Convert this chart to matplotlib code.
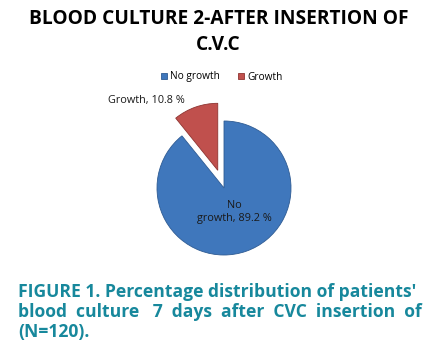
import numpy as np
import matplotlib
matplotlib.use("Agg")
import matplotlib.pyplot as plt

# data
categories = ["No growth", "Growth"]
percent = [89.2, 10.8]
colors = ["#3F77BC", "#C0504D"]
edge_colors = ["#2E5B93", "#8E3431"]

title = "BLOOD CULTURE 2-AFTER INSERTION OF\nC.V.C"
caption_lines = [
    "FIGURE 1. Percentage distribution of patients'",
    "blood  culture   7  days  after  CVC  insertion  of",
    "(N=120).",
]

plt.rcParams['font.family'] = ['Open Sans', 'DejaVu Sans']

W, H = 437, 352
fig = plt.figure(figsize=(W / 100, H / 100), dpi=100)

# pie axes: centre and radius in pixels
cx, cy, r = 224, 188, 67
half = 1.25 * r
ax = fig.add_axes([(cx - half) / W, (H - cy - half) / H, 2 * half / W, 2 * half / H])

wedges, _ = ax.pie(percent, colors=colors, startangle=90, counterclock=False,
                   explode=[0, 0.28], radius=1,
                   wedgeprops=dict(linewidth=0.6))
for w, ec in zip(wedges, edge_colors):
    w.set_edgecolor(ec)
ax.set_xlim(-1.25, 1.25)
ax.set_ylim(-1.25, 1.25)
ax.set_aspect('equal')

# slice labels
ax.text(-1.16, 1.31, f"{categories[1]}, {percent[1]} %", ha='center', va='center',
        fontsize=7.8, color='#1a1a1a')
ax.text(0.16, -0.36, f"No\ngrowth, {percent[0]} %", ha='center', va='center',
        fontsize=7.8, color='#1a1a1a', linespacing=1.25)

fig.legend(wedges, categories, loc='center', bbox_to_anchor=(222 / W, 1 - 77 / H),
           ncol=2, frameon=False, fontsize=7.3, handlelength=0.6, handleheight=0.6,
           handletextpad=0.3, columnspacing=1.8)

fig.text(0.5, 1 - 32 / H, title, ha='center', va='center', fontsize=13.8,
         fontweight='bold', color='black', linespacing=1.45)

ys = [292, 312, 332]
for line, y in zip(caption_lines, ys):
    fig.text(18 / W, 1 - y / H, line, ha='left', va='center', fontsize=12.6,
             fontweight='bold', color='#17889C')

fig.savefig("out.png", dpi=100)
